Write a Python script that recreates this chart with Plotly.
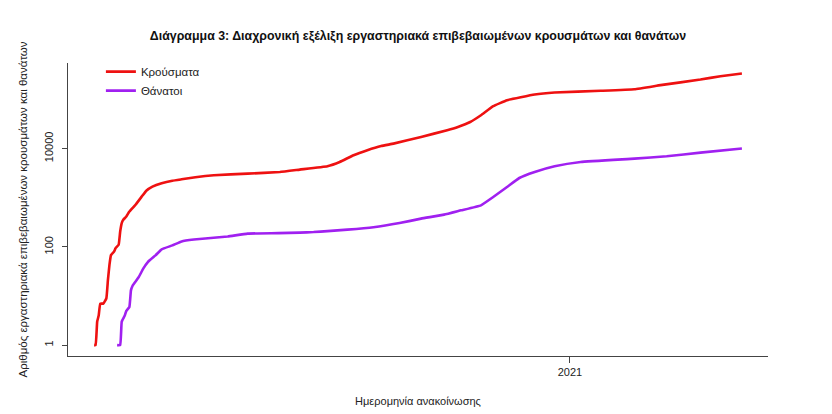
import plotly.graph_objects as go

# ---- data ----
case_dates = [
    "2020-02-26", "2020-02-27", "2020-02-28", "2020-02-29", "2020-03-01", "2020-03-03",
    "2020-03-05", "2020-03-06", "2020-03-07", "2020-03-08", "2020-03-10", "2020-03-11",
    "2020-03-13", "2020-03-14", "2020-03-15", "2020-03-16", "2020-03-18", "2020-03-20",
    "2020-03-24", "2020-03-28", "2020-03-31", "2020-04-04", "2020-04-10", "2020-04-17",
    "2020-04-23", "2020-05-02", "2020-05-14", "2020-06-05", "2020-06-26", "2020-07-09",
    "2020-07-27", "2020-08-04", "2020-08-13", "2020-08-22", "2020-08-31", "2020-09-08",
    "2020-09-26", "2020-10-13", "2020-10-20", "2020-10-28", "2020-11-04", "2020-11-12",
    "2020-11-21", "2020-12-09", "2020-12-22", "2021-01-21", "2021-02-12", "2021-03-01",
    "2021-03-27", "2021-04-09", "2021-04-23",
]
cases = [
    1, 1, 3, 4, 7, 7,
    9, 21, 43, 68, 80, 94,
    110, 205, 305, 355, 415, 525,
    720, 1050, 1390, 1680, 1970, 2220,
    2370, 2610, 2860, 3090, 3330, 3730,
    4370, 5330, 7310, 9250, 11220, 12590,
    17220, 23600, 27540, 34670, 47640, 72780,
    96380, 125900, 138000, 149600, 161400, 195000,
    254100, 296500, 336500,
]

death_dates = [
    "2020-03-12", "2020-03-14", "2020-03-15", "2020-03-17", "2020-03-18", "2020-03-20",
    "2020-03-21", "2020-03-22", "2020-03-26", "2020-03-29", "2020-04-01", "2020-04-06",
    "2020-04-10", "2020-04-17", "2020-04-23", "2020-05-01", "2020-05-23", "2020-06-05",
    "2020-06-25", "2020-07-09", "2020-07-18", "2020-07-27", "2020-08-09", "2020-08-26",
    "2020-09-12", "2020-09-26", "2020-10-11", "2020-10-22", "2020-11-04", "2020-11-12",
    "2020-11-21", "2020-11-29", "2020-12-09", "2020-12-22", "2021-01-08", "2021-02-12",
    "2021-03-05", "2021-03-27", "2021-04-23",
]
deaths = [
    1, 1, 3, 4, 5, 6,
    13, 16, 24, 36, 49, 67,
    89, 107, 129, 141, 162, 186,
    190, 195, 200, 209, 224, 251,
    305, 375, 453, 553, 700, 1033,
    1652, 2518, 3334, 4365, 5333, 6252,
    6966, 8279, 10000,
]

series_names = ["Κρούσματα", "Θάνατοι"]
series_colors = ["#EE1111", "#A020F0"]

y_tick_vals = [1, 100, 10000]
y_tick_text = ["1", "100", "10000"]
x_tick_vals = ["2021-01-01"]
x_tick_text = ["2021"]

title_text = "Διάγραμμα 3: Διαχρονική εξέλιξη εργαστηριακά επιβεβαιωμένων κρουσμάτων και θανάτων"
x_title = "Ημερομηνία ανακοίνωσης"
y_title = "Αριθμός εργαστηριακά επιβεβαιωμένων κρουσμάτων και θανάτων"

# ---- figure ----
fig = go.Figure()
for xs, ys, name, col in [(case_dates, cases, series_names[0], series_colors[0]),
                          (death_dates, deaths, series_names[1], series_colors[1])]:
    fig.add_trace(go.Scatter(x=xs, y=ys, mode="lines", name=name,
                             line=dict(color=col, width=2.6, shape="spline", smoothing=0.3)))

axis_col = "#444444"
W, H = 824, 406  # page body has an 8px margin
fig.update_layout(
    width=W, height=H,
    margin=dict(l=60, r=64, t=55, b=58),
    paper_bgcolor="white", plot_bgcolor="white",
    font=dict(family="Liberation Sans, Arial, sans-serif", size=11, color="#222222"),
    title=dict(text="<b>" + title_text + "</b>", x=0.5, xref="paper", xanchor="center",
               y=1 - 28 / H, yref="container", yanchor="middle",
               font=dict(size=12.4, color="#111111")),
    showlegend=True,
    legend=dict(x=0.047, y=1.02, xanchor="left", yanchor="top", bgcolor="rgba(0,0,0,0)",
                font=dict(size=11.5, color="#222222"), tracegroupgap=0),
    hovermode=False,
)
fig.update_xaxes(
    type="date", range=["2020-02-09", "2021-05-10"],
    tickvals=x_tick_vals, ticktext=x_tick_text,
    showgrid=False, zeroline=False,
    showline=True, linecolor=axis_col, linewidth=1,
    ticks="outside", ticklen=6, tickcolor=axis_col,
    tickfont=dict(size=11),
    title=dict(text=x_title, standoff=20, font=dict(size=11)),
    automargin=False,
)
fig.update_yaxes(
    type="log", range=[-0.221, 5.741],
    tickvals=y_tick_vals, ticktext=y_tick_text, tickangle=-90,
    showgrid=False, zeroline=False,
    showline=True, linecolor=axis_col, linewidth=1,
    ticks="outside", ticklen=5, tickcolor=axis_col,
    tickfont=dict(size=11), ticklabelstandoff=5,
    title=dict(text=y_title, standoff=12, font=dict(size=11.5)),
    automargin=False,
)

fig.write_html("out.html")
